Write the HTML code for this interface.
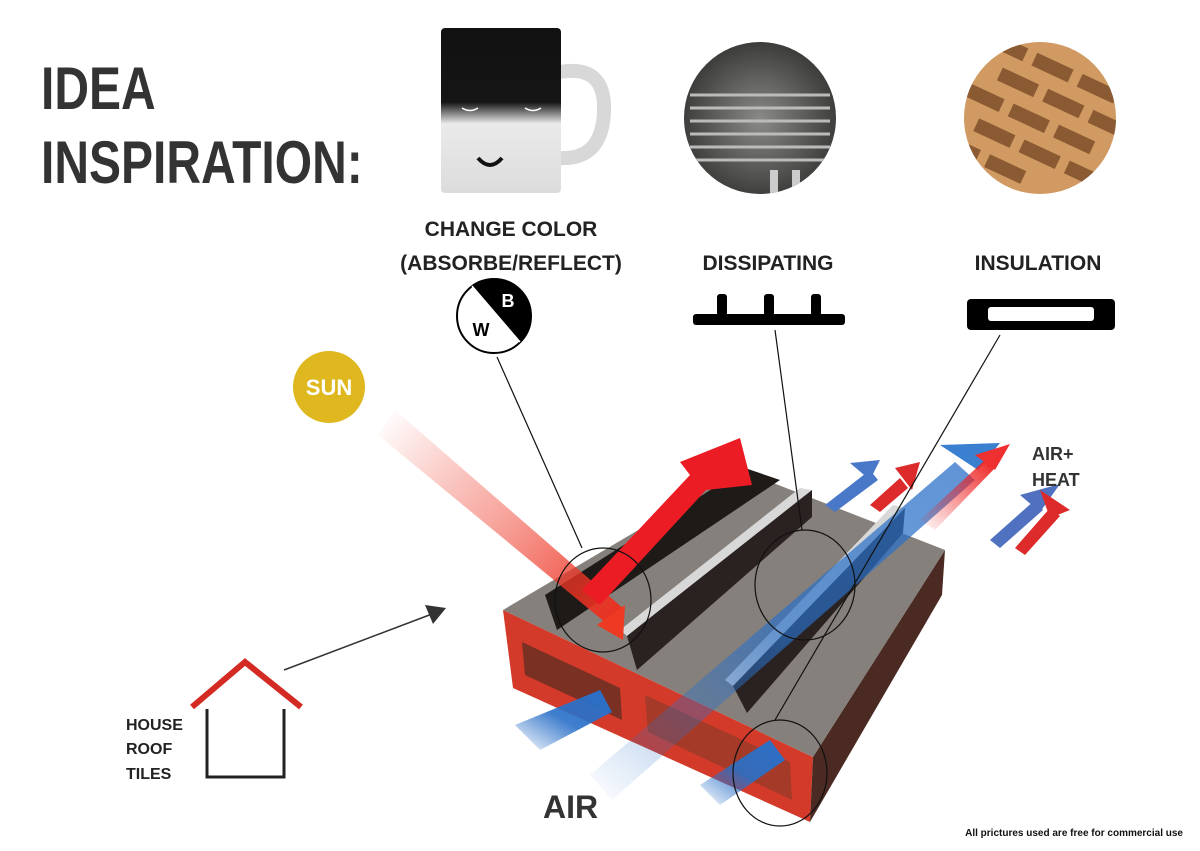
<!DOCTYPE html>
<html><head><meta charset="utf-8"><style>
html,body{margin:0;padding:0;background:#fff}
svg{display:block}
</style></head><body>
<svg width="1200" height="851" viewBox="0 0 1200 851" xmlns="http://www.w3.org/2000/svg">
<defs>
<linearGradient id="mug" x1="0" y1="0" x2="0" y2="1">
<stop offset="0" stop-color="#111"/><stop offset="0.45" stop-color="#151515"/><stop offset="0.58" stop-color="#eaeaea"/><stop offset="1" stop-color="#dcdcdc"/></linearGradient>
<linearGradient id="sunray" x1="380" y1="420" x2="620" y2="635" gradientUnits="userSpaceOnUse">
<stop offset="0" stop-color="#ee3322" stop-opacity="0"/><stop offset="0.5" stop-color="#ee4433" stop-opacity="0.5"/><stop offset="1" stop-color="#ee2a1a"/></linearGradient>
<linearGradient id="blue1" x1="0" y1="1" x2="1" y2="0">
<stop offset="0" stop-color="#2a70c8" stop-opacity="0"/><stop offset="0.5" stop-color="#2a70c8" stop-opacity="0.9"/><stop offset="1" stop-color="#2a70c8"/></linearGradient>
<linearGradient id="redfade" x1="0" y1="1" x2="1" y2="0">
<stop offset="0" stop-color="#ee2222" stop-opacity="0"/><stop offset="1" stop-color="#ee2222"/></linearGradient>
<radialGradient id="eng" cx="0.5" cy="0.5" r="0.5"><stop offset="0" stop-color="#8a8a88"/><stop offset="1" stop-color="#3a3a38"/></radialGradient>
<clipPath id="c1"><circle cx="760" cy="118" r="76"/></clipPath>
<clipPath id="c2"><circle cx="1040" cy="118" r="76"/></clipPath>
</defs>

<g font-family="Liberation Sans, sans-serif" font-weight="bold" fill="#333" font-size="60">
<text transform="translate(41,109) scale(0.8,1)">IDEA</text>
<text transform="translate(41,183) scale(0.8,1)">INSPIRATION:</text>
</g>

<!-- mug -->
<path d="M560 72 Q606 64 604 112 Q602 160 560 158" fill="none" stroke="#d8d8d8" stroke-width="14"/>
<rect x="441" y="28" width="120" height="165" rx="4" fill="url(#mug)"/>
<g stroke="#fff" stroke-width="1.5" fill="none"><path d="M462 108 q8 5 16 0 M525 108 q8 5 16 0"/></g>
<path d="M478 158 q12 14 24 0" stroke="#111" stroke-width="4" fill="none"/>

<!-- engine -->
<g clip-path="url(#c1)">
<rect x="680" y="40" width="160" height="160" fill="url(#eng)"/>
<g stroke="#bbb" stroke-width="3">
<line x1="690" y1="95" x2="830" y2="95"/><line x1="690" y1="108" x2="830" y2="108"/><line x1="690" y1="121" x2="830" y2="121"/><line x1="690" y1="134" x2="830" y2="134"/><line x1="690" y1="147" x2="830" y2="147"/><line x1="690" y1="160" x2="830" y2="160"/></g>
<rect x="770" y="170" width="8" height="40" fill="#ccc"/><rect x="792" y="170" width="8" height="40" fill="#ccc"/>
</g>

<!-- brick -->
<g clip-path="url(#c2)">
<rect x="960" y="40" width="160" height="160" fill="#d19a62"/>
<g fill="#8a5a32" transform="rotate(25 1040 118)">
<rect x="960" y="60" width="40" height="14"/><rect x="1010" y="60" width="40" height="14"/><rect x="1060" y="60" width="40" height="14"/>
<rect x="985" y="88" width="40" height="14"/><rect x="1035" y="88" width="40" height="14"/><rect x="1085" y="88" width="40" height="14"/>
<rect x="960" y="116" width="40" height="14"/><rect x="1010" y="116" width="40" height="14"/><rect x="1060" y="116" width="40" height="14"/>
<rect x="985" y="144" width="40" height="14"/><rect x="1035" y="144" width="40" height="14"/><rect x="1085" y="144" width="40" height="14"/>
<rect x="960" y="172" width="40" height="14"/><rect x="1010" y="172" width="40" height="14"/>
</g></g>

<g font-family="Liberation Sans, sans-serif" font-weight="bold" fill="#222" font-size="21" text-anchor="middle">
<text x="511" y="236">CHANGE COLOR</text>
<text x="511" y="270">(ABSORBE/REFLECT)</text>
<text x="768" y="270">DISSIPATING</text>
<text x="1038" y="270">INSULATION</text>
</g>

<!-- W/B -->
<circle cx="494" cy="316" r="37" fill="#fff" stroke="#000" stroke-width="2"/>
<path d="M472 286 A37 37 0 0 1 520 342 Z" fill="#000"/>
<line x1="472" y1="286" x2="520" y2="342" stroke="#fff" stroke-width="1.5"/>
<text x="508" y="307" font-family="Liberation Sans, sans-serif" font-weight="bold" font-size="18" fill="#fff" text-anchor="middle">B</text>
<text x="481" y="336" font-family="Liberation Sans, sans-serif" font-weight="bold" font-size="18" fill="#000" text-anchor="middle">W</text>

<!-- dissipating icon -->
<g fill="#000">
<rect x="693" y="314" width="152" height="11" rx="3"/>
<rect x="717" y="294" width="10" height="22" rx="3"/><rect x="764" y="294" width="10" height="22" rx="3"/><rect x="811" y="294" width="10" height="22" rx="3"/>
</g>
<!-- insulation icon -->
<rect x="967" y="299" width="148" height="31" rx="4" fill="#000"/>
<rect x="988" y="307" width="106" height="14" rx="3" fill="#fff"/>

<!-- sun -->
<circle cx="329" cy="387" r="36" fill="#dfb71f"/>
<text x="329" y="395" font-family="Liberation Sans, sans-serif" font-weight="bold" font-size="22" fill="#fff" text-anchor="middle">SUN</text>

<!-- house -->
<polyline points="192,707 245,662 301,707" fill="none" stroke="#d42a24" stroke-width="6"/>
<polyline points="207,709 207,777 284,777 284,709" fill="none" stroke="#222" stroke-width="3"/>
<g font-family="Liberation Sans, sans-serif" font-weight="bold" font-size="16" fill="#222">
<text x="126" y="730">HOUSE</text><text x="126" y="754">ROOF</text><text x="126" y="779">TILES</text></g>
<line x1="284" y1="670" x2="432" y2="614" stroke="#333" stroke-width="1.5"/>
<polygon points="446,608 425,605 433,624" fill="#333"/>

<!-- product -->
<polygon points="503,610 813,757 810,822 513,688" fill="#d33a2a"/>
<polygon points="813,757 945,550 942,595 810,822" fill="#4a2a22"/>
<polygon points="522,642 620,688 622,720 525,675" fill="#7a3022"/>
<polygon points="645,695 790,762 792,800 648,732" fill="#a53a28"/>
<polygon points="503,610 740,470 945,550 813,757" fill="#85807b"/>
<!-- fins -->
<polygon points="545,595 745,468 780,480 557,630" fill="#1e1a18"/>
<polygon points="620,630 800,488 812,490 627,636" fill="#d8d8d8"/>
<polygon points="627,636 812,490 812,517 637,670" fill="#2a2220"/>
<polygon points="725,680 893,505 905,508 733,686" fill="#d8d8d8"/>
<polygon points="733,686 905,508 903,533 747,713" fill="#2a2220"/>

<!-- blue arrows -->
<polygon points="515,725 600,690 612,712 540,750" fill="url(#blue1)"/>
<polygon points="590,775 955,462 975,480 612,800" fill="url(#blue1)" opacity="0.75"/>
<polygon points="940,445 1000,443 978,470" fill="#3a7fd0"/>
<polygon points="700,785 770,740 785,760 720,805" fill="url(#blue1)"/>
<polygon points="825,505 870,470 878,480 835,512" fill="#4a78c8"/>
<polygon points="850,463 880,460 870,480" fill="#4a78c8"/>
<polygon points="870,505 900,478 908,488 880,512" fill="#dd2a2a"/>
<polygon points="895,468 920,462 912,490" fill="#dd2a2a"/>
<polygon points="990,540 1035,500 1043,510 1000,548" fill="#5070c0"/>
<polygon points="1020,495 1060,484 1040,512" fill="#5070c0"/>
<polygon points="1015,548 1050,508 1060,516 1025,555" fill="#dd2a2a"/>
<polygon points="1040,490 1070,510 1050,518" fill="#dd2a2a"/>
<polygon points="920,520 985,460 995,468 935,530" fill="url(#redfade)"/>
<polygon points="975,455 1010,444 995,470" fill="#ee3030"/>

<!-- sun ray -->
<polygon points="395,410 625,610 612,628 378,435" fill="url(#sunray)"/>
<polygon points="597,625 625,605 623,640" fill="#ee3a22"/>
<!-- big red arrow -->
<polygon points="582,590 690,475 680,462 740,438 752,485 706,490 600,605" fill="#ec1c24"/>

<!-- ellipses & lines -->
<g fill="none" stroke="#111" stroke-width="1.2">
<ellipse cx="603" cy="600" rx="48" ry="52"/>
<ellipse cx="805" cy="585" rx="50" ry="55"/>
<ellipse cx="780" cy="773" rx="47" ry="53"/>
<line x1="497" y1="357" x2="582" y2="548"/>
<line x1="775" y1="330" x2="802" y2="530"/>
<line x1="1000" y1="335" x2="775" y2="720"/>
</g>

<g font-family="Liberation Sans, sans-serif" font-weight="bold" fill="#333">
<text x="543" y="818" font-size="32">AIR</text>
<text x="1032" y="460" font-size="18">AIR+</text>
<text x="1032" y="486" font-size="18">HEAT</text>
<text x="1183" y="836" font-size="10" fill="#111" text-anchor="end">All prictures used are free for commercial use</text>
</g>
</svg>
</body></html>
